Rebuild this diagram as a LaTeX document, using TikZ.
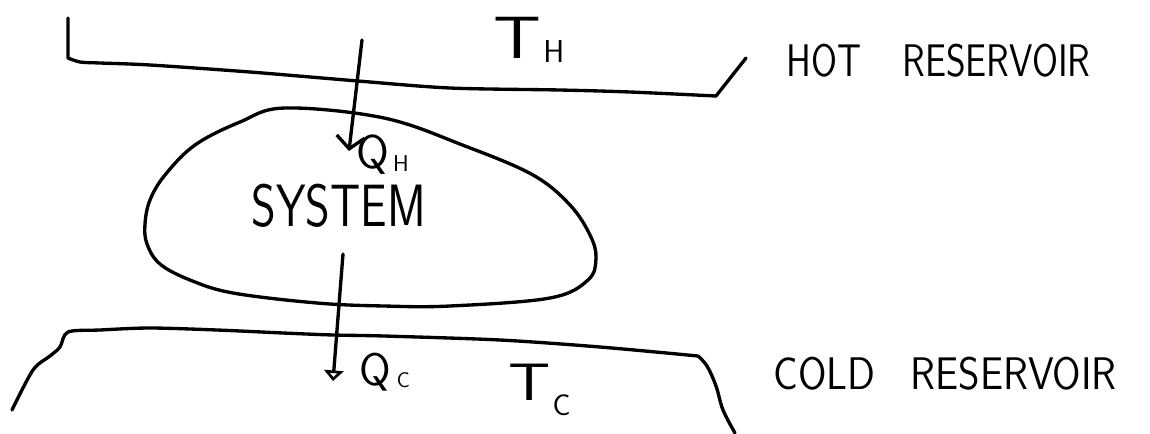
\documentclass[tikz,border=0pt]{standalone}
\usetikzlibrary{arrows.meta}
\begin{document}
\begin{tikzpicture}[x=0.02cm,y=-0.02cm, line width=1.9pt, line cap=round, line join=round,
  lbl/.style={inner sep=0pt, anchor=base west, font=\sffamily},
  hotarrow/.style={-{Straight Barb[length=7pt,width=16pt,line width=1.9pt]}},
  coldarrow/.style={-{Triangle[open,length=6pt,width=11pt,line width=1.6pt]}}]
\useasboundingbox (0,0) rectangle (1150,433);
% hot reservoir
\draw (68,18) -- (68,58) -- plot[smooth,tension=0.5] coordinates {(68,58)(80,62)(100,63)(150,65)(250,72)(358,81)(450,88)(560,90)(630,92)(716,96)} -- (746,58);
% cold reservoir
\draw plot[smooth,tension=0.5] coordinates {(12,410)(33,370)(50,356)(60,347)(68,332)(100,330)(150,328)(217,330)(283,333)(333,335)(384,336)(500,340)(600,347)(698,356)};
\draw plot[smooth,tension=0.6] coordinates {(698,356)(707,366)(716,386)(723,410)(735,433)};
% system
\draw plot[smooth cycle,tension=0.6] coordinates {(285,108)(384,118)(465,146)(533,175)(570,205)(590,235)(596,258)(588,280)(550,298)(450,306)(384,306)(317,303)(233,293)(190,280)(160,264)(147,244)(145,224)(150,200)(165,175)(195,145)(240,122)};
% arrows
\coordinate (qhTail) at (362,40);
\coordinate (qhTip) at (349,151);
\draw[hotarrow] (qhTail) -- (qhTip);
\coordinate (qcTail) at (343,254);
\coordinate (qcTip) at (333,381);
\draw[coldarrow] (qcTail) -- (qcTip);
% labels
\node[lbl] (TH) at (492,58) {\fontsize{34}{34}\selectfont\scalebox{1.25}[1]{T}\kern1pt\raisebox{-2.3pt}{\fontsize{18}{18}\selectfont H}};
\node[lbl] (QH) at (355,168) {\fontsize{27}{27}\selectfont Q\kern2pt\raisebox{-2pt}{\fontsize{13}{13}\selectfont H}};
\node[lbl] (SYS) at (250,226) {\fontsize{34}{34}\selectfont\scalebox{0.79}[1]{SYSTEM}};
\node[lbl] (QC) at (358,385) {\fontsize{26}{26}\selectfont Q\kern3pt\raisebox{-1.7pt}{\fontsize{12}{12}\selectfont C}};
\node[lbl] (TC) at (507,400) {\fontsize{30}{30}\selectfont\scalebox{1.25}[1]{T}\kern1pt\raisebox{-9pt}{\fontsize{17}{17}\selectfont C}};
\node[lbl] (hotlbl) at (785,76) {\fontsize{26}{26}\selectfont\scalebox{0.82}[1]{HOT\hspace{1.1em}RESERVOIR}};
\node[lbl] (coldlbl) at (772,389) {\fontsize{26}{26}\selectfont\scalebox{0.9}[1]{COLD\hspace{0.85em}RESERVOIR}};
\end{tikzpicture}
\end{document}
